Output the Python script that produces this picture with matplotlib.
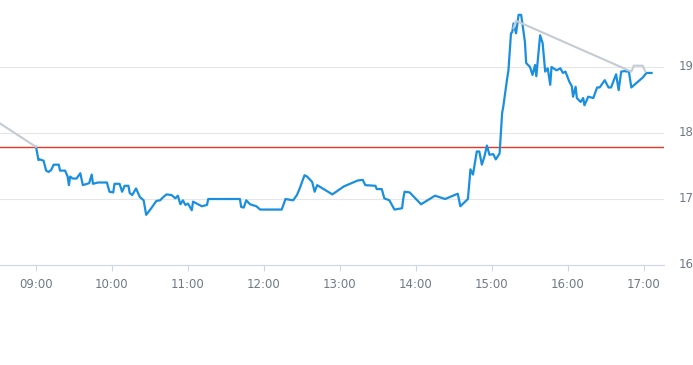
import numpy as np
import matplotlib
matplotlib.use("Agg")
import matplotlib.pyplot as plt

# intraday price (blue)
times = ["09:00", "09:02", "09:03", "09:06", "09:08", "09:10", "09:12", "09:14", "09:18", "09:19",
         "09:23", "09:25", "09:26", "09:27", "09:29", "09:32", "09:35", "09:37", "09:42", "09:44",
         "09:45", "09:49", "09:56", "09:58", "10:01", "10:02", "10:06", "10:08", "10:10", "10:13",
         "10:14", "10:16", "10:19", "10:22", "10:25", "10:27", "10:31", "10:35", "10:38", "10:40",
         "10:43", "10:47", "10:50", "10:52", "10:54", "10:56", "10:58", "11:00", "11:03", "11:04",
         "11:11", "11:15", "11:16", "11:20", "11:41", "11:42", "11:44", "11:46", "11:49", "11:54",
         "11:57", "12:14", "12:17", "12:23", "12:26", "12:28", "12:32", "12:34", "12:38", "12:40",
         "12:42", "12:54", "13:03", "13:14", "13:18", "13:20", "13:28", "13:29", "13:33", "13:35",
         "13:39", "13:43", "13:49", "13:50", "13:51", "13:55", "14:04", "14:15", "14:23", "14:33",
         "14:35", "14:41", "14:43", "14:45", "14:48", "14:50", "14:52", "14:54", "14:56", "14:58",
         "15:01", "15:03", "15:06", "15:08", "15:09", "15:12", "15:13", "15:15", "15:16", "15:17",
         "15:19", "15:21", "15:23", "15:24", "15:26", "15:27", "15:30", "15:32", "15:34", "15:35",
         "15:38", "15:40", "15:42", "15:44", "15:46", "15:47", "15:51", "15:54", "15:56", "15:58",
         "16:01", "16:03", "16:04", "16:06", "16:07", "16:10", "16:12", "16:13", "16:16", "16:20",
         "16:23", "16:25", "16:29", "16:32", "16:34", "16:38", "16:40", "16:42", "16:45", "16:46",
         "16:48", "16:50", "16:59", "17:02", "17:06"]
prices = [17.79, 17.59, 17.60, 17.58, 17.43, 17.41, 17.44, 17.52, 17.52, 17.43,
          17.43, 17.34, 17.21, 17.34, 17.31, 17.31, 17.39, 17.21, 17.24, 17.37,
          17.23, 17.25, 17.25, 17.11, 17.10, 17.23, 17.23, 17.11, 17.20, 17.20,
          17.09, 17.06, 17.16, 17.03, 16.98, 16.76, 16.86, 16.97, 16.98, 17.02,
          17.07, 17.06, 17.01, 17.05, 16.92, 16.98, 16.91, 16.93, 16.83, 16.96,
          16.89, 16.91, 17.00, 17.00, 17.00, 16.88, 16.87, 16.98, 16.92, 16.89,
          16.84, 16.84, 17.00, 16.98, 17.06, 17.15, 17.36, 17.34, 17.26, 17.11,
          17.21, 17.07, 17.19, 17.28, 17.29, 17.21, 17.20, 17.15, 17.15, 17.01,
          16.98, 16.84, 16.86, 17.01, 17.11, 17.10, 16.92, 17.05, 17.00, 17.08,
          16.89, 17.00, 17.45, 17.37, 17.72, 17.72, 17.52, 17.64, 17.81, 17.67,
          17.68, 17.60, 17.69, 18.30, 18.41, 18.83, 18.95, 19.51, 19.53, 19.66,
          19.51, 19.79, 19.79, 19.66, 19.38, 19.06, 19.00, 18.88, 19.03, 18.86,
          19.48, 19.36, 18.93, 18.98, 18.73, 19.00, 18.95, 18.98, 18.91, 18.93,
          18.78, 18.71, 18.55, 18.70, 18.53, 18.47, 18.53, 18.42, 18.55, 18.53,
          18.69, 18.69, 18.80, 18.69, 18.69, 18.89, 18.65, 18.93, 18.94, 18.93,
          18.94, 18.69, 18.84, 18.91, 18.91]

# second series (grey), None = gap
ref_times = ["08:20", "09:00", "09:01", "15:17", "15:19", "16:50", "16:52", "16:59", "17:01"]
ref_prices = [18.29, 17.79, None, 19.59, 19.70, 18.93, 19.02, 19.02, 18.93]

open_price = 17.79
tick_labels = ["09:00", "10:00", "11:00", "12:00", "13:00", "14:00", "15:00", "16:00", "17:00"]
y_ticks = [16, 17, 18, 19]


def to_min(s):
    h, m = s.split(":")
    return int(h) * 60 + int(m)


x = np.array([to_min(t) for t in times])
y = np.array(prices)
rx = np.array([to_min(t) for t in ref_times])
ry = np.array([np.nan if v is None else v for v in ref_prices])

fig = plt.figure(figsize=(6.93, 3.65), dpi=100)
ax = fig.add_axes([0, 100 / 365, 664 / 693, 264 / 365])

ax.set_xlim(to_min("09:00") - 28.4, to_min("09:00") + 495.8)
ax.set_ylim(16, 20)

for v in y_ticks[1:]:
    ax.axhline(v, color="#e6e6e6", lw=0.8, zorder=0)
ax.axhline(open_price, color="#e0392c", lw=1.0, zorder=1)

ax.plot(x, y, color="#1a8fde", lw=1.6, zorder=3)
ax.plot(rx, ry, color="#c3cbd3", lw=1.5, zorder=4)

for s in ["top", "left", "right"]:
    ax.spines[s].set_visible(False)
ax.spines["bottom"].set_color("#ccd6eb")
ax.spines["bottom"].set_linewidth(0.8)

fonts = ["Liberation Sans Narrow", "DejaVu Sans"]
ax.set_xticks([to_min(t) for t in tick_labels])
ax.set_xticklabels(tick_labels, family=fonts, fontsize=8.5, color="#6f7a86")
ax.tick_params(axis="x", length=4, color="#ccd6eb", width=0.8, pad=5)
ax.set_yticks([])

for v in y_ticks:
    fig.text(679 / 693, ax.transData.transform((0, v))[1] / 365, str(v),
             family=fonts, fontsize=8.5, color="#6f7a86", ha="left", va="center")

fig.savefig("out.png", dpi=100)
